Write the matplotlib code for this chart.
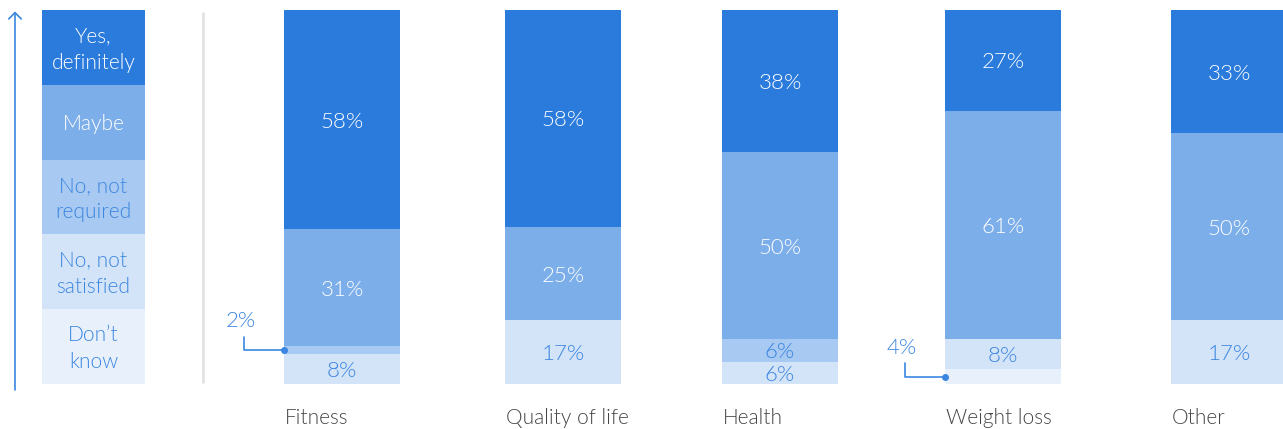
"""
Barras empilhadas (100%) com as respostas por motivo de uso,
legenda em coluna à esquerda e rótulos de percentual em cada segmento.
"""

import matplotlib
matplotlib.use('Agg')
import matplotlib.pyplot as plt
import numpy as np

# Dados
categories = ['Fitness', 'Quality of life', 'Health', 'Weight loss', 'Other']
answer_labels = ['Don\u2019t\nknow', 'No, not\nsatisfied', 'No, not\nrequired', 'Maybe', 'Yes,\ndefinitely']

dont_know = [0, 0, 0, 4, 0]
not_satisfied = [8, 17, 6, 8, 17]
not_required = [2, 0, 6, 0, 0]
maybe = [31, 25, 50, 61, 50]
yes_definitely = [58, 58, 38, 27, 33]

# Estilo
colors = ['#e8f1fb', '#d3e3f8', '#a8c9f1', '#7caeea', '#2a7bdc']
text_colors = ['#3b86e0', '#3b86e0', '#3b86e0', 'white', 'white']
BLUE = '#3b86e0'
FONT = 'Lato'
WEIGHT = 300

W, H = 1283, 429
BAR_TOP, BAR_BOTTOM = 10, 384
bar_lefts = [284, 505, 722, 945, 1171]
bar_width = 116
legend_left, legend_width = 42, 103


def main():
    plt.rcParams['font.family'] = [FONT, 'DejaVu Sans']
    plt.rcParams['font.weight'] = WEIGHT
    fig = plt.figure(figsize=(W / 100, H / 100), dpi=100)
    ax = fig.add_axes([0, (H - BAR_BOTTOM) / H, 1, (BAR_BOTTOM - BAR_TOP) / H])
    ax.set_xlim(0, W)
    ax.set_ylim(0, 100)
    ax.axis('off')

    series = np.array([dont_know, not_satisfied, not_required, maybe, yes_definitely], dtype=float)
    totals = series.sum(axis=0)
    shares = series / totals * 100  # cada barra ocupa a altura toda

    # Coluna de legenda (5 faixas iguais)
    for i, label in enumerate(answer_labels):
        ax.bar(legend_left, 20, bottom=i * 20, width=legend_width, align='edge',
               color=colors[i], linewidth=0)
        ax.annotate(label, xy=(legend_left + legend_width / 2, i * 20 + 10),
                    xytext=(0, -2), textcoords='offset pixels', ha='center', va='center',
                    color=text_colors[i], fontsize=15, linespacing=1.4)

    # Seta vertical e separador
    ax.annotate('', xy=(15, 99.6), xytext=(15, -1.6), annotation_clip=False,
                arrowprops=dict(arrowstyle='->,head_length=0.45,head_width=0.45',
                                color=BLUE, lw=1.2, shrinkA=0, shrinkB=0))
    ax.plot([203, 203], [0.3, 99.5], color='#e2e2e2', lw=2, solid_capstyle='butt')

    # Barras empilhadas
    bottoms = np.zeros(len(categories))
    for i in range(len(series)):
        ax.bar(bar_lefts, shares[i], bottom=bottoms, width=bar_width, align='edge',
               color=colors[i], linewidth=0)
        for j, left in enumerate(bar_lefts):
            value = series[i][j]
            if value == 0:
                continue
            center = bottoms[j] + shares[i][j] / 2
            if value >= 5:
                ax.annotate(f'{value:.0f}%', xy=(left + bar_width / 2, center),
                            xytext=(0, -2), textcoords='offset pixels',
                            ha='center', va='center', color=text_colors[i], fontsize=16)
            else:
                # Segmentos pequenos: rótulo fora da barra com linha guia
                ax.annotate(f'{value:.0f}%', xy=(left, center), xytext=(-43, 29),
                            textcoords='offset pixels', ha='center', va='center',
                            color=BLUE, fontsize=16,
                            arrowprops=dict(arrowstyle='-', color=BLUE, lw=1.2,
                                            connectionstyle='angle,angleA=-90,angleB=180,rad=0',
                                            relpos=(0.6, 0), shrinkA=2, shrinkB=0))
                ax.plot(left, center, 'o', color=BLUE, markersize=4, clip_on=False)
        bottoms += shares[i]

    # Rótulos das categorias
    label_y = (BAR_BOTTOM - 418) / (BAR_BOTTOM - BAR_TOP) * 100
    for left, name in zip(bar_lefts, categories):
        ax.text(left + 1, label_y, name, ha='left', va='center', color='#454545',
                fontsize=15, clip_on=False)

    fig.savefig('out.png', dpi=100)
    plt.close(fig)


if __name__ == '__main__':
    main()
